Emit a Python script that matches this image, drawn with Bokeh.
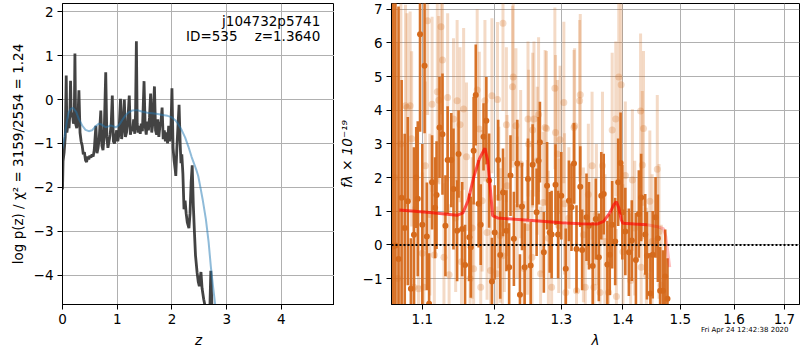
from bokeh.plotting import figure
from bokeh.layouts import row, column
from bokeh.models import ColumnDataSource, Label, Range1d, Span, CustomJSTickFormatter, PrintfTickFormatter, Div
from bokeh.embed import file_html
from bokeh.resources import INLINE

FONT = "DejaVu Sans"
FS = "13.5px"

# ---------------- left panel: log p(z) ----------------
z_pz = [0.00, 0.01, 0.03, 0.05, 0.068, 0.08, 0.10, 0.12, 0.135, 0.147,
        0.16, 0.18, 0.20, 0.215, 0.227, 0.24, 0.26, 0.28, 0.30, 0.32,
        0.34, 0.36, 0.38, 0.40, 0.42, 0.44, 0.46, 0.48, 0.50, 0.52,
        0.54, 0.56, 0.58, 0.61, 0.63, 0.65, 0.67, 0.70, 0.72, 0.74,
        0.76, 0.79, 0.81, 0.83, 0.85, 0.87, 0.89, 0.91, 0.93, 0.95,
        0.97, 0.99, 1.01, 1.03, 1.06, 1.08, 1.10, 1.13, 1.15, 1.17,
        1.19, 1.22, 1.24, 1.26, 1.28, 1.30, 1.32, 1.335, 1.35, 1.365,
        1.38, 1.40, 1.42, 1.44, 1.46, 1.49, 1.51, 1.53, 1.55, 1.57,
        1.59, 1.61, 1.63, 1.65, 1.68, 1.70, 1.72, 1.74, 1.76, 1.78,
        1.80, 1.82, 1.84, 1.86, 1.88, 1.90, 1.92, 1.94, 1.96, 1.98,
        2.00, 2.02, 2.04, 2.06, 2.07, 2.09, 2.11, 2.13, 2.15, 2.165,
        2.18, 2.20, 2.22, 2.24, 2.26, 2.28, 2.31, 2.33, 2.35, 2.37,
        2.39, 2.41, 2.43, 2.46, 2.48, 2.50, 2.53, 2.55, 2.58, 2.62,
        2.66, 2.69, 2.71, 2.72, 2.74, 2.80]
logp = [-2.05, -1.40, -1.20, -0.85, 0.55, -0.75, -0.55, -0.65, -0.30, 0.43,
        -0.40, -0.30, -0.55, -0.45, 1.05, -0.55, -0.65, -0.50, 0.21, -0.75,
        -0.95, -1.05, -1.25, -1.20, -1.38, -1.42, -1.30, -1.36, -1.28, -1.32,
        -1.25, -1.30, -1.15, -0.60, -1.22, -1.10, -0.90, -0.25, -1.05, -1.15,
        -0.85, 0.62, -0.85, -1.10, -0.95, -0.80, -0.55, 0.09, -0.95, -1.00,
        -0.85, -0.70, -0.95, -0.80, 0.02, -0.90, -0.70, 0.00, -0.85, -0.75,
        -0.55, 0.09, -0.80, -0.65, -0.72, -0.45, -0.78, -0.30, 1.33, -0.55,
        -0.75, -0.60, -0.78, -0.55, -0.72, 0.42, -0.60, -0.80, -0.50, -0.70,
        -0.40, 0.14, -0.75, -0.55, 0.30, -0.70, -0.80, -0.45, -0.85, -0.60,
        -0.50, -0.18, -0.90, -0.70, -0.95, -0.75, -1.00, -0.60, -0.95, -0.70,
        0.26, -1.10, -1.40, -1.60, -1.74, -1.10, -0.60, -0.12, -1.00, -1.45,
        -1.25, -1.70, -2.50, -2.30, -2.60, -2.80, -2.93, -2.60, -1.90, -1.50,
        -2.40, -3.00, -3.55, -3.95, -4.15, -4.25, -3.93, -4.30, -4.55, -4.80,
        -5.00, -4.90, -3.90, -4.30, -5.10, -5.80]

z_chi2 = [0.00, 0.03, 0.05, 0.08, 0.11, 0.15, 0.19, 0.25, 0.30, 0.36,
          0.42, 0.48, 0.54, 0.61, 0.66, 0.70, 0.75, 0.79, 0.84, 0.88,
          0.93, 0.97, 1.02, 1.06, 1.10, 1.15, 1.21, 1.27, 1.36, 1.45,
          1.55, 1.64, 1.74, 1.83, 1.92, 1.99, 2.06, 2.11, 2.18, 2.24,
          2.30, 2.36, 2.41, 2.45, 2.48, 2.52, 2.56, 2.62, 2.67, 2.71,
          2.75, 2.79, 2.82]
logp_chi2 = [-1.12, -0.90, -0.75, -0.50, -0.30, -0.21, -0.19, -0.28, -0.45, -0.59,
             -0.69, -0.72, -0.70, -0.60, -0.55, -0.56, -0.60, -0.63, -0.61, -0.59,
             -0.61, -0.63, -0.60, -0.53, -0.45, -0.36, -0.29, -0.25, -0.24, -0.27,
             -0.30, -0.31, -0.33, -0.35, -0.37, -0.40, -0.47, -0.55, -0.70, -0.86,
             -1.07, -1.31, -1.48, -1.62, -1.74, -2.00, -2.27, -2.73, -3.25, -3.80,
             -4.25, -4.68, -5.00]

left_xticks = [0, 1, 2, 3, 4]
left_yticks = [-4, -3, -2, -1, 0, 1, 2]
obj_name = "j104732p5741"
obj_info = "ID=535\u00a0\u00a0\u00a0\u00a0z=1.3640"

# ---------------- right panel: spectrum ----------------
dark_wave = [1.062, 1.065, 1.069, 1.073, 1.077, 1.081, 1.085, 1.089, 1.092, 1.094,
             1.097, 1.100, 1.103, 1.106, 1.109, 1.113, 1.117, 1.119, 1.123, 1.127,
             1.131, 1.134, 1.139, 1.142, 1.147, 1.149, 1.154, 1.158, 1.164, 1.166,
             1.170, 1.173, 1.177, 1.180, 1.184, 1.188, 1.192, 1.196, 1.200, 1.205,
             1.208, 1.212, 1.217, 1.221, 1.223, 1.228, 1.233, 1.237, 1.240, 1.244,
             1.249, 1.253, 1.256, 1.262, 1.265, 1.267, 1.273, 1.278, 1.282, 1.285,
             1.291, 1.295, 1.300, 1.307, 1.312, 1.316, 1.320, 1.324, 1.330, 1.333,
             1.340, 1.344, 1.350, 1.355, 1.360, 1.364, 1.368, 1.374, 1.378, 1.382,
             1.387, 1.392, 1.396, 1.399, 1.404, 1.410, 1.415, 1.422, 1.427, 1.431,
             1.438, 1.441, 1.447, 1.451, 1.456, 1.460, 1.464, 1.469, 1.473, 1.477]
dark_flux = [-0.05, -0.02, -0.42, 1.40, 0.50, 1.30, -1.30, 0.30, 2.00, 1.37,
             6.26, 0.60, 5.32, 0.25, -1.75, 1.86, 1.10, 1.48, 3.49, 3.29,
             0.57, 2.52, 2.52, 1.66, 0.42, 2.70, 0.47, -0.60, 0.23, -0.07,
             2.80, 4.45, 1.22, 0.60, 3.21, 3.69, 1.91, -1.09, 0.37, 2.52,
             -0.30, 1.56, 0.42, -0.66, 2.06, 0.18, 2.42, -1.48, 1.14, -0.66,
             1.96, -0.61, 2.38, 0.97, 2.50, 3.05, -0.22, 1.76, 0.37, 0.31,
             1.79, 0.31, 1.46, -0.71, 1.31, 1.12, 2.42, -0.12, 1.73, -0.15,
             0.82, 0.57, -0.63, 0.77, -0.37, 1.46, 1.51, -0.58, -0.29, 0.60,
             0.10, 1.86, 2.43, 0.97, 0.40, -0.22, 0.13, -0.45, 0.92, 1.41,
             0.31, -0.32, -1.44, -0.29, 0.82, 0.20, -1.36, -1.36, -0.94, -1.60]
dark_err = [7.5, 7.5, 7.5, 3.5, 2.8, 2.5, 1.5, 2.6, 1.5, 2.3,
            2.9, 2.4, 2.0, 1.6, 1.5, 1.4, 1.5, 1.6, 1.5, 1.8,
            1.5, 1.6, 1.4, 1.8, 1.5, 1.3, 1.4, 1.2, 1.3, 1.5,
            1.6, 1.5, 1.3, 1.2, 1.0, 1.3, 1.4, 1.3, 1.4, 1.2,
            1.3, 1.3, 1.2, 1.3, 1.2, 1.4, 1.3, 1.2, 1.3, 1.3,
            1.2, 1.3, 1.2, 1.3, 1.3, 1.2, 1.2, 1.3, 1.2, 1.3,
            1.2, 1.3, 1.3, 1.2, 1.2, 1.3, 1.2, 1.3, 1.2, 1.2,
            1.3, 1.3, 1.3, 1.2, 1.3, 1.3, 1.2, 1.3, 1.2, 1.3,
            1.3, 1.3, 1.5, 1.4, 1.3, 1.3, 1.2, 1.4, 1.3, 1.3,
            1.2, 1.3, 1.2, 1.3, 1.2, 1.3, 1.3, 1.2, 1.4, 1.2]

light_wave = [1.064, 1.068, 1.072, 1.078, 1.080, 1.084, 1.086, 1.089, 1.095, 1.100,
              1.102, 1.104, 1.107, 1.110, 1.113, 1.116, 1.120, 1.122, 1.125, 1.127,
              1.129, 1.134, 1.136, 1.142, 1.145, 1.147, 1.151, 1.153, 1.156, 1.160,
              1.165, 1.168, 1.170, 1.175, 1.178, 1.180, 1.182, 1.186, 1.189, 1.194,
              1.196, 1.203, 1.204, 1.206, 1.208, 1.211, 1.212, 1.214, 1.217, 1.218,
              1.226, 1.227, 1.231, 1.233, 1.238, 1.243, 1.248, 1.249, 1.250, 1.255,
              1.256, 1.258, 1.263, 1.265, 1.268, 1.272, 1.275, 1.277, 1.280, 1.285,
              1.290, 1.291, 1.294, 1.296, 1.298, 1.304, 1.305, 1.307, 1.312, 1.320,
              1.321, 1.324, 1.329, 1.330, 1.335, 1.338, 1.343, 1.349, 1.352, 1.356,
              1.362, 1.366, 1.370, 1.376, 1.382, 1.388, 1.389, 1.393, 1.397, 1.400,
              1.404, 1.413, 1.416, 1.420, 1.430, 1.431, 1.433, 1.435, 1.440, 1.446,
              1.450, 1.459, 1.462, 1.466]
light_flux = [2.00, -1.00, 3.00, 4.13, 4.08, 4.13, 3.15, -1.26, -1.30, -0.25,
              -1.26, 2.35, 6.66, 0.90, 4.18, -0.30, 4.55, 4.30, 6.48, 5.49,
              -0.37, 4.38, -0.89, 3.74, 0.80, 4.28, 3.57, -0.50, 4.04, 2.62,
              -1.00, 0.50, -0.71, 4.60, 3.44, -1.26, 1.31, 4.28, 0.37, -0.76,
              4.43, -0.86, 4.32, 1.41, 0.28, -0.32, 6.58, 0.60, 3.57, 1.76,
              4.70, 4.99, 3.54, 1.12, 2.40, -0.70, 0.52, 3.74, 3.00, -0.37,
              3.41, 3.74, 2.50, 3.87, -0.86, 1.26, 3.49, 3.46, 0.20, -1.26,
              4.65, 3.34, 2.70, 0.57, 3.12, 4.23, 1.22, -1.41, 0.80, 3.49,
              3.54, -1.36, 4.28, 4.46, 0.30, -1.26, 1.50, 2.35, -1.26, 0.90,
              -1.41, 2.35, 0.10, -1.41, 3.41, 3.74, -1.53, 4.99, 4.76, -0.20,
              2.06, -1.06, 1.93, 0.50, 3.98, -0.66, 2.37, 3.46, -0.90, 1.30,
              0.10, 2.25, 0.40, -1.20]
light_err = [7.0, 7.0, 5.0, 3.0, 2.8, 2.8, 2.6, 2.4, 2.3, 2.4,
             2.3, 2.5, 2.8, 2.4, 2.6, 2.2, 2.7, 2.5, 2.6, 2.5,
             2.2, 2.5, 2.1, 2.4, 2.2, 2.4, 2.3, 2.1, 2.4, 2.2,
             2.0, 2.1, 2.0, 2.4, 2.3, 2.0, 2.1, 2.4, 2.0, 2.1,
             2.3, 2.0, 2.3, 2.1, 2.0, 2.0, 2.6, 2.0, 2.3, 2.1,
             2.4, 2.5, 2.3, 2.1, 2.2, 2.0, 2.0, 2.3, 2.2, 2.0,
             2.3, 2.3, 2.2, 2.3, 2.0, 2.1, 2.3, 2.3, 2.0, 2.0,
             2.4, 2.3, 2.2, 2.0, 2.2, 2.4, 2.1, 2.0, 2.1, 2.3,
             2.3, 2.0, 2.4, 2.4, 2.0, 2.0, 2.1, 2.2, 2.0, 2.1,
             2.0, 2.2, 2.0, 2.0, 2.3, 2.3, 2.0, 2.5, 2.4, 2.0,
             2.2, 2.0, 2.1, 2.0, 2.3, 2.0, 2.2, 2.3, 2.0, 2.1,
             2.0, 2.2, 2.0, 1.8]

model_wave = [1.070, 1.090, 1.110, 1.130, 1.147, 1.155, 1.162, 1.170, 1.178, 1.186,
              1.190, 1.194, 1.197, 1.204, 1.230, 1.260, 1.300, 1.330, 1.357, 1.368,
              1.378, 1.385, 1.389, 1.393, 1.397, 1.400, 1.420, 1.441]
model_flux = [1.04, 1.00, 0.96, 0.92, 0.88, 0.95, 1.30, 2.00, 2.55, 2.87,
              2.50, 1.60, 0.87, 0.80, 0.76, 0.72, 0.66, 0.63, 0.62, 0.70,
              0.95, 1.20, 1.28, 1.10, 0.75, 0.64, 0.62, 0.60]
edge_wave = [1.441, 1.462, 1.470, 1.474, 1.481]
edge_flux = [0.60, 0.53, 0.48, 0.25, -0.66]

right_xticks = [1.1, 1.2, 1.3, 1.4, 1.5, 1.6, 1.7]
right_yticks = [-1, 0, 1, 2, 3, 4, 5, 6, 7]
timestamp = "Fri Apr 24 12:42:38 2020"

ORANGE = "#d56a1c"
GRID = "#b0b0b0"

minus_fmt = CustomJSTickFormatter(code="""
    const s = Math.abs(tick).toFixed(0);
    return tick < 0 ? "\\u2212" + s : s;
""")


def style(p):
    p.outline_line_color = "black"
    p.outline_line_alpha = 1.0
    p.outline_line_width = 1
    p.grid.grid_line_color = GRID
    p.grid.grid_line_width = 1
    for ax in p.axis:
        ax.axis_line_color = "black"
        ax.major_tick_line_color = "black"
        ax.major_tick_out = 5
        ax.major_tick_in = 0
        ax.minor_tick_line_color = None
        ax.major_label_text_font = FONT
        ax.major_label_text_font_size = FS
        ax.major_label_text_color = "black"
        ax.major_label_standoff = 4
        ax.axis_label_text_font = FONT
        ax.axis_label_text_font_size = FS
        ax.axis_label_text_color = "black"
        ax.axis_label_standoff = 5
    p.background_fill_color = "white"
    p.border_fill_color = "white"


# ---------- left figure ----------
p1 = figure(width=334, height=350, output_backend="svg", toolbar_location=None,
            x_range=Range1d(0, 4.97), y_range=Range1d(-4.67, 2.19),
            min_border_left=62, min_border_right=0, min_border_top=3, min_border_bottom=46)
style(p1)
p1.xaxis.ticker = left_xticks
p1.yaxis.ticker = left_yticks
p1.yaxis.formatter = minus_fmt
p1.xaxis.axis_label = "z"
p1.xaxis.axis_label_text_font_style = "italic"
p1.yaxis.axis_label = "log p(z) / \u03c7\u00b2 = 3159/2554 = 1.24"
p1.yaxis.axis_label_text_font_style = "normal"

p1.line(z_pz, logp, line_color="#333333", line_alpha=0.92, line_width=2.8)
p1.line(z_chi2, logp_chi2, line_color="#1f77b4", line_alpha=0.5, line_width=2)

p1.add_layout(Label(x=4.71, y=1.80, text=obj_name, text_align="right", text_baseline="middle",
                    text_font=FONT, text_font_size=FS, text_color="black"))
p1.add_layout(Label(x=4.71, y=1.46, text=obj_info, text_align="right", text_baseline="middle",
                    text_font=FONT, text_font_size=FS, text_color="black"))

# ---------- right figure ----------
p2 = figure(width=466, height=350, output_backend="svg", toolbar_location=None,
            x_axis_type="log",
            x_range=Range1d(1.060, 1.731), y_range=Range1d(-1.77, 7.17),
            min_border_left=57, min_border_right=1, min_border_top=3, min_border_bottom=46)
style(p2)
p2.xaxis.ticker = right_xticks
p2.xaxis.formatter = PrintfTickFormatter(format="%.1f")
p2.yaxis.ticker = right_yticks
p2.yaxis.formatter = minus_fmt
p2.xaxis.axis_label = "\u03bb"
p2.xaxis.axis_label_text_font_style = "italic"
p2.yaxis.axis_label = "f\u03bb \u00d7 10\u207b\u00b9\u2079"
p2.yaxis.axis_label_text_font_style = "italic"

light_src = ColumnDataSource(dict(
    x=light_wave, y=light_flux,
    lo=[f - e for f, e in zip(light_flux, light_err)],
    hi=[f + e for f, e in zip(light_flux, light_err)]))
dark_src = ColumnDataSource(dict(
    x=dark_wave, y=dark_flux,
    lo=[f - e for f, e in zip(dark_flux, dark_err)],
    hi=[f + e for f, e in zip(dark_flux, dark_err)]))

p2.segment(x0="x", y0="lo", x1="x", y1="hi", source=light_src,
           line_color=ORANGE, line_alpha=0.25, line_width=3)
p2.scatter(x="x", y="y", source=light_src, size=7, fill_color=ORANGE, fill_alpha=0.25,
           line_color=None)
p2.segment(x0="x", y0="lo", x1="x", y1="hi", source=dark_src,
           line_color=ORANGE, line_alpha=0.95, line_width=2.6)
p2.scatter(x="x", y="y", source=dark_src, size=6, fill_color=ORANGE, fill_alpha=1.0,
           line_color=None)
p2.line(model_wave, model_flux, line_color="red", line_alpha=0.65, line_width=3)
p2.line(edge_wave, edge_flux, line_color="red", line_alpha=0.25, line_width=3)

p2.add_layout(Span(location=0, dimension="width", line_color="black",
                   line_width=2, line_dash="2 2"))

stamp = Div(text=timestamp, width=95, height=9, margin=(-24, 0, 0, 701),
            styles={"font-size": "7px", "font-family": "DejaVu Sans", "color": "black",
                    "line-height": "9px", "white-space": "nowrap"})

layout = column(row(p1, p2), stamp)
open("out.html", "w").write(file_html(layout, INLINE))
